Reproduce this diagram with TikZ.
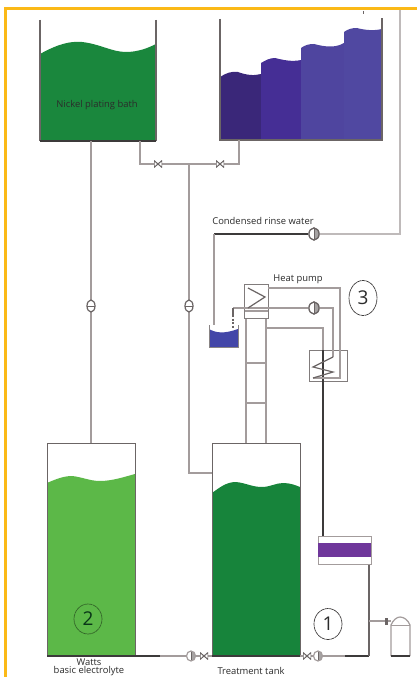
\documentclass[tikz,border=0pt]{standalone}
\usepackage{fontspec}
\setmainfont{Open Sans}
\usepackage{xcolor}
\usetikzlibrary{shapes.geometric}
\definecolor{frameline}{HTML}{FBB917}
\definecolor{pipeline}{HTML}{A39C9C}
\definecolor{wallline}{HTML}{6B6565}
\definecolor{darkline}{HTML}{3C3A3A}
\definecolor{inktext}{HTML}{2B2B2B}
\definecolor{bathgreen}{HTML}{1A873D}
\definecolor{wattsgreen}{HTML}{5CB848}
\definecolor{tankgreen}{HTML}{17843B}
\definecolor{rinseA}{HTML}{3A2779}
\definecolor{rinseB}{HTML}{452E95}
\definecolor{rinseC}{HTML}{4F459F}
\definecolor{rinseD}{HTML}{5048A1}
\definecolor{beakerblue}{HTML}{4346A8}
\definecolor{filterpurple}{HTML}{6F379B}

\begin{document}
\begin{tikzpicture}[
  x=1pt,y=-1pt,
  every node/.style={font=\fontsize{9.4}{9.4}\selectfont,text=inktext,align=center,inner sep=0pt},
  vessel/.style={draw=wallline,line width=1.2pt,anchor=north west},
  pipe/.style={draw=pipeline,line width=1.6pt},
  darkpipe/.style={draw=darkline,line width=1.2pt},
  wall/.style={draw=wallline,line width=1.2pt},
  pumpv/.style={ellipse,draw=wallline,line width=1.2pt,fill=white,minimum width=8pt,minimum height=12pt,
    path picture={\draw[wallline,line width=1pt] (path picture bounding box.west) -- (path picture bounding box.east);}},
  pumph/.style={ellipse,draw=wallline,line width=1.2pt,fill=white,minimum width=10pt,minimum height=12pt,
    path picture={\fill[wallline!60] (path picture bounding box.north) rectangle (path picture bounding box.south east);
      \draw[wallline,line width=1pt] (path picture bounding box.north) -- (path picture bounding box.south);}},
  valve/.style={minimum width=8pt,minimum height=7pt,
    path picture={\fill[white] (path picture bounding box.north west) rectangle (path picture bounding box.south east);
      \draw[wallline,line width=1pt] (path picture bounding box.north west) -- (path picture bounding box.south east) -- (path picture bounding box.north east) -- (path picture bounding box.south west) -- cycle;}},
  exchanger/.style={draw=wallline!85,line width=1.2pt,anchor=north west},
  tag/.style={ellipse,draw=darkline,dash pattern=on 4pt off .5pt,line width=.7pt,font=\fontsize{19}{19}\selectfont}
]
\useasboundingbox (0,0) rectangle (417,677);
\fill[white] (0,0) rectangle (417,677);
\draw[frameline,line width=3pt] (5,677) -- (5,9) -- (417,9);

% liquids
\fill[bathgreen] (40,54) .. controls (58,44) and (70,41) .. (82,42) .. controls (100,44) and (112,52) .. (126,52) .. controls (138,52) and (148,48) .. (156,44) -- (156,141) -- (40,141) -- cycle;
\fill[rinseA] (220,77) .. controls (226,73) and (232,71) .. (238,72) .. controls (246,75) and (254,76) .. (261,74) -- (261,140) -- (220,140) -- cycle;
\fill[rinseB] (261,63) .. controls (266,60) and (270,58) .. (275,58) .. controls (283,60) and (292,62) .. (301,60) -- (301,140) -- (261,140) -- cycle;
\fill[rinseC] (301,48) .. controls (305,45) and (309,44) .. (314,44) .. controls (322,46) and (334,49) .. (344,43) -- (344,140) -- (301,140) -- cycle;
\fill[rinseD] (344,32) .. controls (348,29) and (352,28) .. (357,28) .. controls (364,30) and (374,31) .. (382,29) -- (382,140) -- (344,140) -- cycle;
\fill[wattsgreen] (47,483) .. controls (56,479) and (64,476) .. (72,476) .. controls (82,477) and (90,481) .. (100,481) .. controls (112,481) and (124,477) .. (135,474) -- (135,656) -- (47,656) -- cycle;
\fill[tankgreen] (212,493) .. controls (219,488) and (226,482) .. (236,482) .. controls (246,483) and (252,487) .. (262,487) .. controls (270,487) and (276,483) .. (283,483) .. controls (290,483) and (295,485) .. (300,487) -- (300,656) -- (212,656) -- cycle;
\fill[beakerblue] (209,329) .. controls (216,333) and (224,334) .. (238,329) -- (238,347) -- (209,347) -- cycle;

% vessels
\coordinate (nickelL) at (40,20);
\coordinate (nickelR) at (156,20);
\coordinate (nickelBL) at (40,141);
\coordinate (nickelBR) at (156,141);
\draw[wall] (nickelL) -- (nickelBL);
\draw[wall] (nickelR) -- (nickelBR);
\draw[darkline,line width=1.2pt] (nickelBL) -- (nickelBR);
\coordinate (rinseL) at (220,19);
\coordinate (rinseR) at (382,18);
\coordinate (rinseBL) at (220,140);
\coordinate (rinseBR) at (382,140);
\draw[wall] (rinseL) -- (rinseBL) -- (rinseBR) -- (rinseR);
\draw[wallline,line width=.8pt] (363,11) -- (363,14);
\node[vessel,minimum width=88pt,minimum height=213pt] (watts) at (47,443) {};
\node[vessel,minimum width=88pt,minimum height=213pt] (treatment) at (212,443) {};
\coordinate (beakerL) at (209,325);
\coordinate (beakerR) at (238,325);
\draw[wallline!80,line width=1pt] (beakerL) -- (209,347) -- (238,347) -- (beakerR);

\node (nickel) at (97,105) {Nickel plating bath};
\node (wattsA) at (89,662) {Watts};
\node (wattsB) at (89,671) {basic electrolyte};
\node (treatmenttext) at (251,671) {Treatment tank};
\node (condensed) at (263,221) {Condensed rinse water};
\node (heatpump) at (298,279) {Heat pump};
\node[tag,minimum width=28pt,minimum height=31pt] (one) at (328,624) {1};
\node[tag,minimum width=28pt,minimum height=35pt] (three) at (363,298) {3};
\node[tag,draw=wattsgreen!55!black,text=tankgreen!40!black,minimum width=28pt,minimum height=30pt] (two) at (88,619) {2};

% pipes from the upper tanks
\coordinate (nickelout) at (91,141);
\coordinate (wattsin) at (91,443);
\coordinate (bathout) at (140,141);
\coordinate (rinseout) at (239,140);
\coordinate (tee) at (189,164);
\coordinate (treatin) at (212,473);
\draw[pipe] (nickelout) -- (wattsin);
\draw[pipe] (bathout) |- (tee) -| (rinseout);
\draw[pipe] (tee) |- (treatin);
\node[pumpv] (pumpa) at (91,306) {};
\node[pumpv] (pumpb) at (189,306) {};
\node[valve] (valvea) at (158,164) {};
\node[valve] (valveb) at (220,164) {};

% rinse water return
\coordinate (rinsetop) at (400,10);
\coordinate (beakerin) at (214,325);
\node[pumph] (pumpc) at (314,234) {};
\draw[draw=pipeline!70,line width=1.6pt] (rinsetop) |- (pumpc);
\draw[darkpipe] (pumpc) -- (214,234);
\draw[pipe] (214,234) -- (beakerin);
\node[pumph] at (pumpc) {};

% column and heat pump
\coordinate (columnL) at (246,443);
\coordinate (columnR) at (266,443);
\coordinate (columnLt) at (246,318);
\coordinate (columnRt) at (266,318);
\coordinate (hotout) at (266,328);
\coordinate (filterin) at (323,537);
\draw[pipe] (columnLt) -- (columnL);
\draw[pipe] (columnRt) -- (columnR);
\draw[pipe] (246,363) -- (266,363);
\draw[pipe] (246,403) -- (266,403);
\draw[pipe] (244,311) -- (268,311);
\node[exchanger,minimum width=24pt,minimum height=34pt] (hxa) at (244,284) {};
\node[exchanger,minimum width=38pt,minimum height=31pt] (hxb) at (309,350) {};
\draw[pipe] (hotout) -| (323,350);
\draw[darkpipe] (323,350) -- (filterin);
\coordinate (drip) at (233,308);
\node[pumph] (pumpd) at (314,308) {};
\draw[pipe] (268,288) -| (340,378) -- (313,378);
\draw[pipe] (drip) -- (pumpd) -| (333,357);
\draw[draw=wallline,line width=1.2pt] (drip) -- (233,315);
\draw[draw=wallline,line width=1.6pt,dash pattern=on 2pt off 1.5pt] (233,315) -- (233,328);
\node[pumph] at (pumpd) {};
\draw[draw=wallline,line width=1.2pt] (248,288) -- (265,297) -- (248,308);
\draw[draw=wallline,line width=1.2pt] (333,357) -- (313,367) -- (333,372) -- (313,378);

% bottom line
\coordinate (wattsout) at (135,656);
\coordinate (treatbl) at (212,656);
\coordinate (treatbr) at (300,656);
\coordinate (filterout) at (369,564);
\coordinate (drumin) at (391,621);
\coordinate (branch) at (369,621);
\draw[pipe] (wattsout) -- (treatbl);
\draw[darkline,line width=1.2pt] (wattsout) -- (160,656);
\draw[darkline,line width=1.2pt] (47,656) -- (135,656) (212,656) -- (300,656);
\node[pumph,draw=pipeline,minimum width=9pt,minimum height=10pt] (pumpe) at (191,656) {};
\node[valve] (valvec) at (204,656) {};
\draw[pipe] (treatbr) -- (345,656);
\draw[darkpipe] (345,656) -- (369,656);
\draw[wall] (369,656) -- (filterout);
\draw[pipe] (branch) -- (drumin);
\node[pumph,draw=pipeline,minimum width=9pt,minimum height=10pt] (pumpf) at (318,656) {};
\node[valve] (valved) at (307,656) {};
\node[minimum width=3pt,minimum height=7pt,fill=wallline] (valvee) at (386,621) {};

% filter
\node[draw=pipeline,line width=1.2pt,anchor=north west,minimum width=53pt,minimum height=28pt] (filter) at (318,536) {};
\fill[filterpurple] (318,543) rectangle (371,557);

% small drum
\draw[draw=pipeline,line width=1.2pt] (391,656) -- (391,625) .. controls (393,620) and (397,617) .. (400,617) .. controls (404,617) and (408,620) .. (410,625) -- (410,656);
\draw[draw=pipeline,line width=1pt] (391,625) -- (410,625);
\draw[darkline,line width=1.2pt] (391,656) -- (410,656);
\end{tikzpicture}
\end{document}
